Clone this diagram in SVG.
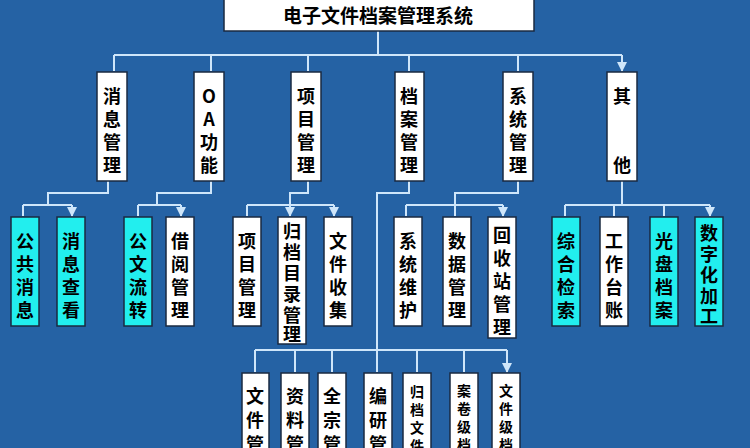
<svg xmlns="http://www.w3.org/2000/svg" width="750" height="448" viewBox="0 0 750 448">
<style>
.b{fill:#fff;stroke:#1a2a40;stroke-width:1.5}
.c{fill:#22eeee;stroke:#1a2a40;stroke-width:1.5}
.t{font-family:"Noto Sans CJK SC","Liberation Sans",sans-serif;font-size:18px;font-weight:bold;fill:#000;text-anchor:middle}
.s{font-size:14px}
.l{fill:none;stroke:#cfe6fa;stroke-width:2}
</style>
<defs><marker id="a" viewBox="0 0 10 10" refX="9" refY="5" markerWidth="5" markerHeight="5" orient="auto"><path d="M0,0L10,5L0,10z" fill="#cfe6fa"/></marker></defs>
<rect width="750" height="448" fill="#2562a4"/>
<g id="connectors" class="l">
<path d="M378,31V55M114,55H622"/>
<path d="M114,55V71M211,55V71M308,55V71M409,55V71M518,55V71M622,55V71" marker-end="url(#a)"/>
<path d="M108,181V193H48V205M23,205H72"/>
<path d="M23,205V216M72,205V216" marker-end="url(#a)"/>
<path d="M211,181V193H157V205M138,205H181"/>
<path d="M138,205V216M181,205V216" marker-end="url(#a)"/>
<path d="M308,181V193H290V205M247,205H334"/>
<path d="M247,205V216M334,205V216" marker-end="url(#a)"/>
<path d="M290,205V216" marker-end="url(#a)"/>
<path d="M409,181V193H377V350M255,350H507"/>
<path d="M255,350V372M295,350V372M332,350V372M377,350V372M417,350V372M464,350V372M507,350V372" marker-end="url(#a)"/>
<path d="M518,181V193H455V205M406,205H503"/>
<path d="M406,205V216M455,205V216M503,205V216" marker-end="url(#a)"/>
<path d="M622,181V205M565,205H710"/>
<path d="M565,205V216M614,205V216M664,205V216M710,205V216" marker-end="url(#a)"/>
</g>
<g id="root"><rect class="b" x="224" y="-2" width="310" height="33"/><text class="t" x="378" y="23" style="font-size:19px">电子文件档案管理系统</text></g>
<g id="n1"><rect class="b" x="97" y="72" width="30" height="109"/><text class="t"><tspan x="112" y="103">消</tspan><tspan x="112" y="126">息</tspan><tspan x="112" y="149">管</tspan><tspan x="112" y="172">理</tspan></text></g>
<g id="n2"><rect class="b" x="194" y="72" width="30" height="109"/><text class="t"><tspan x="209" y="103">O</tspan><tspan x="209" y="126">A</tspan><tspan x="209" y="149">功</tspan><tspan x="209" y="172">能</tspan></text></g>
<g id="n3"><rect class="b" x="291" y="72" width="30" height="109"/><text class="t"><tspan x="306" y="103">项</tspan><tspan x="306" y="126">目</tspan><tspan x="306" y="149">管</tspan><tspan x="306" y="172">理</tspan></text></g>
<g id="n4"><rect class="b" x="395" y="72" width="29" height="109"/><text class="t"><tspan x="409" y="103">档</tspan><tspan x="409" y="126">案</tspan><tspan x="409" y="149">管</tspan><tspan x="409" y="172">理</tspan></text></g>
<g id="n5"><rect class="b" x="503" y="72" width="30" height="109"/><text class="t"><tspan x="518" y="103">系</tspan><tspan x="518" y="126">统</tspan><tspan x="518" y="149">管</tspan><tspan x="518" y="172">理</tspan></text></g>
<g id="n6"><rect class="b" x="607" y="72" width="30" height="109"/><text class="t"><tspan x="622" y="103">其</tspan><tspan x="622" y="172">他</tspan></text></g>
<g id="m1"><rect class="c" x="11" y="217" width="28" height="109"/><text class="t"><tspan x="25" y="248">公</tspan><tspan x="25" y="271">共</tspan><tspan x="25" y="294">消</tspan><tspan x="25" y="317">息</tspan></text></g>
<g id="m2"><rect class="c" x="57" y="217" width="28" height="109"/><text class="t"><tspan x="71" y="248">消</tspan><tspan x="71" y="271">息</tspan><tspan x="71" y="294">查</tspan><tspan x="71" y="317">看</tspan></text></g>
<g id="m3"><rect class="c" x="124" y="217" width="28" height="109"/><text class="t"><tspan x="138" y="248">公</tspan><tspan x="138" y="271">文</tspan><tspan x="138" y="294">流</tspan><tspan x="138" y="317">转</tspan></text></g>
<g id="m4"><rect class="b" x="166" y="217" width="28" height="109"/><text class="t"><tspan x="180" y="248">借</tspan><tspan x="180" y="271">阅</tspan><tspan x="180" y="294">管</tspan><tspan x="180" y="317">理</tspan></text></g>
<g id="m5"><rect class="b" x="233" y="217" width="28" height="109"/><text class="t"><tspan x="247" y="248">项</tspan><tspan x="247" y="271">目</tspan><tspan x="247" y="294">管</tspan><tspan x="247" y="317">理</tspan></text></g>
<g id="m6"><rect class="b" x="278" y="217" width="28" height="127"/><text class="t"><tspan x="292" y="238">归</tspan><tspan x="292" y="259">档</tspan><tspan x="292" y="280">目</tspan><tspan x="292" y="301">录</tspan><tspan x="292" y="322">管</tspan><tspan x="292" y="341">理</tspan></text></g>
<g id="m7"><rect class="b" x="324" y="217" width="28" height="109"/><text class="t"><tspan x="338" y="248">文</tspan><tspan x="338" y="271">件</tspan><tspan x="338" y="294">收</tspan><tspan x="338" y="317">集</tspan></text></g>
<g id="m8"><rect class="b" x="394" y="217" width="28" height="109"/><text class="t"><tspan x="408" y="248">系</tspan><tspan x="408" y="271">统</tspan><tspan x="408" y="294">维</tspan><tspan x="408" y="317">护</tspan></text></g>
<g id="m9"><rect class="b" x="443" y="217" width="28" height="109"/><text class="t"><tspan x="457" y="248">数</tspan><tspan x="457" y="271">据</tspan><tspan x="457" y="294">管</tspan><tspan x="457" y="317">理</tspan></text></g>
<g id="m10"><rect class="b" x="488" y="217" width="28" height="121"/><text class="t"><tspan x="502" y="242">回</tspan><tspan x="502" y="265">收</tspan><tspan x="502" y="288">站</tspan><tspan x="502" y="311">管</tspan><tspan x="502" y="334">理</tspan></text></g>
<g id="m11"><rect class="c" x="552" y="217" width="28" height="109"/><text class="t"><tspan x="566" y="248">综</tspan><tspan x="566" y="271">合</tspan><tspan x="566" y="294">检</tspan><tspan x="566" y="317">索</tspan></text></g>
<g id="m12"><rect class="b" x="600" y="217" width="28" height="109"/><text class="t"><tspan x="614" y="248">工</tspan><tspan x="614" y="271">作</tspan><tspan x="614" y="294">台</tspan><tspan x="614" y="317">账</tspan></text></g>
<g id="m13"><rect class="c" x="650" y="217" width="28" height="109"/><text class="t"><tspan x="664" y="248">光</tspan><tspan x="664" y="271">盘</tspan><tspan x="664" y="294">档</tspan><tspan x="664" y="317">案</tspan></text></g>
<g id="m14"><rect class="c" x="695" y="217" width="28" height="109"/><text class="t"><tspan x="709" y="240">数</tspan><tspan x="709" y="261">字</tspan><tspan x="709" y="282">化</tspan><tspan x="709" y="303">加</tspan><tspan x="709" y="323">工</tspan></text></g>
<g id="k1"><rect class="b" x="242" y="373" width="27" height="80"/><text class="t"><tspan x="255" y="403">文</tspan><tspan x="255" y="427">件</tspan><tspan x="255" y="451">管</tspan></text></g>
<g id="k2"><rect class="b" x="281" y="373" width="28" height="80"/><text class="t"><tspan x="295" y="403">资</tspan><tspan x="295" y="427">料</tspan><tspan x="295" y="451">管</tspan></text></g>
<g id="k3"><rect class="b" x="318" y="373" width="28" height="80"/><text class="t"><tspan x="332" y="403">全</tspan><tspan x="332" y="427">宗</tspan><tspan x="332" y="451">管</tspan></text></g>
<g id="k4"><rect class="b" x="364" y="373" width="28" height="80"/><text class="t"><tspan x="378" y="403">编</tspan><tspan x="378" y="427">研</tspan><tspan x="378" y="451">管</tspan></text></g>
<g id="k5"><rect class="b" x="403" y="373" width="28" height="80"/><text class="t s"><tspan x="417" y="397">归</tspan><tspan x="417" y="415">档</tspan><tspan x="417" y="433">文</tspan><tspan x="417" y="451">件</tspan></text></g>
<g id="k6"><rect class="b" x="450" y="373" width="28" height="80"/><text class="t s"><tspan x="464" y="396">案</tspan><tspan x="464" y="414">卷</tspan><tspan x="464" y="432">级</tspan><tspan x="464" y="450">档</tspan></text></g>
<g id="k7"><rect class="b" x="492" y="373" width="28" height="80"/><text class="t s"><tspan x="506" y="396">文</tspan><tspan x="506" y="414">件</tspan><tspan x="506" y="432">级</tspan><tspan x="506" y="450">档</tspan></text></g>
</svg>
